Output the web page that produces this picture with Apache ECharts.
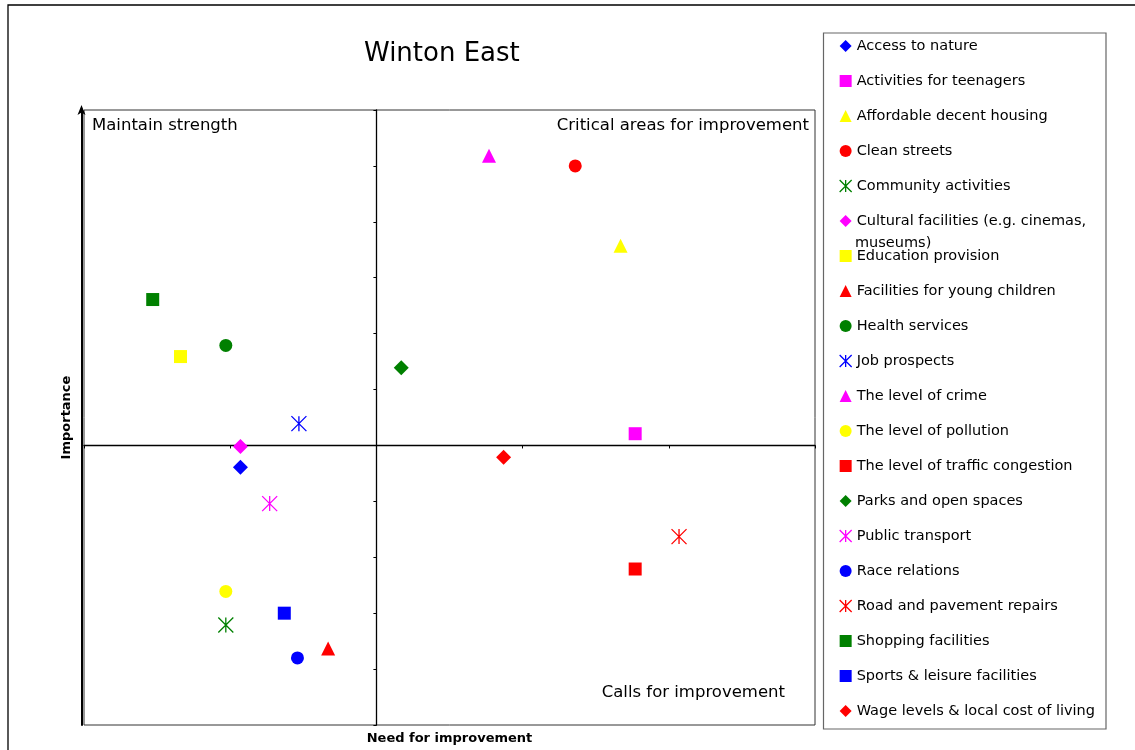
<!DOCTYPE html>
<html>
<head>
<meta charset="utf-8">
<script src="https://cdn.jsdelivr.net/npm/echarts@6/dist/echarts.min.js"></script>
<style>
  html, body { margin: 0; padding: 0; background: #fff; }
  #chart { width: 1135px; height: 750px; }
</style>
</head>
<body>
<div id="chart"></div>
<script>
// ---- data ----
const categories = [
  'Access to nature',
  'Activities for teenagers',
  'Affordable decent housing',
  'Clean streets',
  'Community activities',
  'Cultural facilities (e.g. cinemas, museums)',
  'Education provision',
  'Facilities for young children',
  'Health services',
  'Job prospects',
  'The level of crime',
  'The level of pollution',
  'The level of traffic congestion',
  'Parks and open spaces',
  'Public transport',
  'Race relations',
  'Road and pavement repairs',
  'Shopping facilities',
  'Sports & leisure facilities',
  'Wage levels & local cost of living'
];
// Need for improvement (x), centred on 0
const needForImprovement = [
  -0.93, 1.77, 1.67, 1.36, -1.03, -0.93, -1.34, -0.33, -1.03, -0.53,
  0.77, -1.03, 1.77, 0.17, -0.73, -0.54, 2.07, -1.53, -0.63, 0.87
];
// Importance (y), centred on 0
const importance = [
  -0.39, 0.21, 3.57, 5.00, -3.21, -0.02, 1.59, -3.63, 1.79, 0.39,
  5.18, -2.61, -2.21, 1.39, -1.04, -3.80, -1.63, 2.61, -3.00, -0.21
];

// ---- styles (kept separate from data) ----
const ASTERISK = 'path://M0,0L10,10M10,0L0,10M5,0L5,10';
const markerStyles = [
  ['#0000FF', 'diamond'], ['#FF00FF', 'rect'], ['#FFFF00', 'triangle'], ['#FF0000', 'circle'],
  ['#008000', ASTERISK], ['#FF00FF', 'diamond'], ['#FFFF00', 'rect'], ['#FF0000', 'triangle'],
  ['#008000', 'circle'], ['#0000FF', ASTERISK], ['#FF00FF', 'triangle'], ['#FFFF00', 'circle'],
  ['#FF0000', 'rect'], ['#008000', 'diamond'], ['#FF00FF', ASTERISK], ['#0000FF', 'circle'],
  ['#FF0000', ASTERISK], ['#008000', 'rect'], ['#0000FF', 'rect'], ['#FF0000', 'diamond']
];
const sizeBySymbol = { circle: 13, rect: 13, triangle: 14, diamond: 15 };

const FONT = 'DejaVu Sans';
const CULTURAL = 'Cultural facilities (e.g. cinemas, museums)';

const series = categories.map((name, i) => {
  const [color, symbol] = markerStyles[i];
  const isAst = symbol === ASTERISK;
  return {
    type: 'scatter',
    name: name,
    xAxisIndex: 0,
    yAxisIndex: 0,
    symbol: symbol,
    symbolSize: isAst ? 15 : sizeBySymbol[symbol],
    itemStyle: isAst
      ? { color: color, borderColor: color, borderWidth: 1.3, opacity: 1 }
      : { color: color, opacity: 1 },
    data: [[needForImprovement[i], importance[i]]],
    emphasis: { disabled: true },
    animation: false
  };
});

const legendData = categories.map((name, i) => {
  const [color, symbol] = markerStyles[i];
  const item = { name: name, itemStyle: { opacity: 1 } };
  if (symbol === ASTERISK) {
    item.itemStyle = { borderColor: color, borderWidth: 1.3, color: color, opacity: 1 };
  }
  return item;
});

const chart = echarts.init(document.getElementById('chart'));
chart.setOption({
  backgroundColor: '#fff',
  animation: false,
  title: {
    text: 'Winton East',
    left: 364,
    top: 41,
    padding: 0,
    textStyle: { fontFamily: FONT, fontSize: 26, fontWeight: 'normal', color: '#000' }
  },
  grid: {
    left: 84, right: 320, top: 110, bottom: 24,
    show: true, borderColor: '#333', borderWidth: 1, backgroundColor: 'transparent'
  },
  xAxis: [
    {
      type: 'value', min: -2, max: 3, interval: 1,
      axisLine: { show: true, onZero: true, onZeroAxisIndex: 0, lineStyle: { color: '#000', width: 1.3 } },
      axisTick: { show: true, length: 3, lineStyle: { color: '#000' } },
      axisLabel: { show: false },
      splitLine: { show: false }
    },
    {
      type: 'value', min: -2, max: 3, interval: 1, position: 'bottom',
      axisLine: { show: false }, axisTick: { show: false }, axisLabel: { show: false }, splitLine: { show: false },
      name: 'Need for improvement', nameLocation: 'middle', nameGap: 7,
      nameTextStyle: { fontFamily: FONT, fontSize: 13, fontWeight: 'bold', color: '#000' }
    }
  ],
  yAxis: [
    {
      type: 'value', min: -5, max: 6, interval: 1,
      axisLine: { show: true, onZero: true, onZeroAxisIndex: 0, lineStyle: { color: '#000', width: 1.3 } },
      axisTick: { show: true, length: 3, lineStyle: { color: '#000' } },
      axisLabel: { show: false },
      splitLine: { show: false }
    },
    {
      type: 'value', min: -5, max: 6, interval: 1, position: 'left', offset: 2.5,
      axisLine: {
        show: true, onZero: false,
        symbol: ['none', 'arrow'], symbolSize: [6, 10], symbolOffset: [0, 5],
        lineStyle: { color: '#000', width: 2 }
      },
      axisTick: { show: false }, axisLabel: { show: false }, splitLine: { show: false },
      name: 'Importance', nameLocation: 'middle', nameGap: 8, nameRotate: 90,
      nameTextStyle: { fontFamily: FONT, fontSize: 13, fontWeight: 'bold', color: '#000' }
    }
  ],
  legend: {
    orient: 'vertical',
    left: 823, top: 34,
    padding: [4, 10, 11, 16],
    itemWidth: 12, itemHeight: 12, itemGap: 19,
    selectedMode: false,
    data: legendData,
    formatter: function (name) {
      return name === CULTURAL ? 'Cultural facilities (e.g. cinemas,' : name;
    },
    textStyle: { fontFamily: FONT, fontSize: 14.5, lineHeight: 16, color: '#000' }
  },
  graphic: [
    { type: 'rect', silent: true, z: -1, shape: { x: 8, y: 5, width: 1200, height: 800 },
      style: { fill: 'none', stroke: '#000', lineWidth: 1.3 } },
    { type: 'rect', silent: true, z: -1, shape: { x: 823.5, y: 33, width: 282.5, height: 696 },
      style: { fill: 'none', stroke: '#666', lineWidth: 1.2 } },
    { type: 'text', silent: true, x: 855, y: 243,
      style: { text: 'museums)', fontFamily: FONT, fontSize: 14.5, fill: '#000', align: 'left', verticalAlign: 'middle' } },
    { type: 'text', silent: true, x: 92, y: 126,
      style: { text: 'Maintain strength', fontFamily: FONT, fontSize: 16.5, fill: '#000', align: 'left', verticalAlign: 'middle' } },
    { type: 'text', silent: true, x: 809, y: 126,
      style: { text: 'Critical areas for improvement', fontFamily: FONT, fontSize: 16.5, fill: '#000', align: 'right', verticalAlign: 'middle' } },
    { type: 'text', silent: true, x: 785, y: 693,
      style: { text: 'Calls for improvement', fontFamily: FONT, fontSize: 16.5, fill: '#000', align: 'right', verticalAlign: 'middle' } }
  ],
  series: series
});
</script>
</body>
</html>
